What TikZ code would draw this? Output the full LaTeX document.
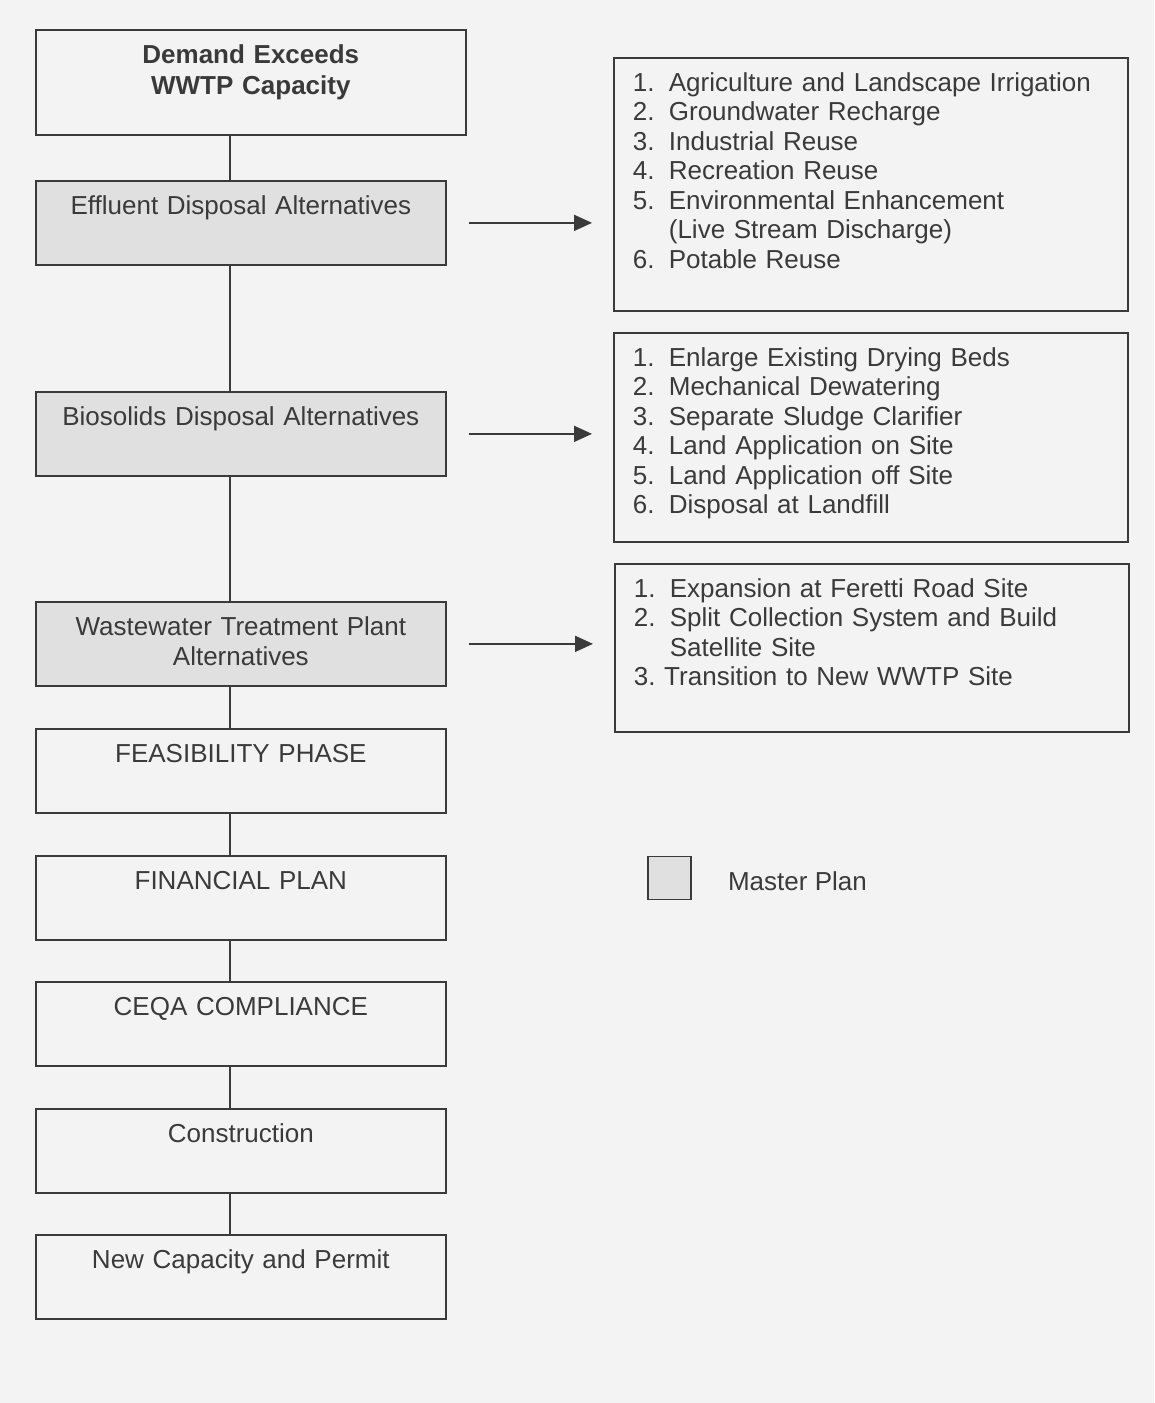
\documentclass[tikz,border=0pt]{standalone}
\usepackage{fontspec}
\setmainfont{Liberation Sans}
\usetikzlibrary{positioning,arrows.meta}
\definecolor{paper}{HTML}{F3F3F3}
\definecolor{ink}{HTML}{3A3A3A}
\definecolor{plan}{HTML}{E0E0E0}
\newcommand{\listno}[1]{\makebox[0.72cm][l]{#1}}

\begin{document}
\begin{tikzpicture}[x=0.02cm, y=-0.02cm,
  every node/.style = {font=\fontsize{14.8}{16.8}\selectfont, text=ink},
  stage/.style = {shape=rectangle, draw=ink, line width=1pt, anchor=north west,
    text width=7.92cm, align=center, inner xsep=0.14cm, inner ysep=0pt,
    text height=0.68cm, text depth=1.0cm},
  master/.style = {stage, fill=plan},
  options/.style = {shape=rectangle, draw=ink, line width=1pt, anchor=north west,
    text width=9.53cm, align=left, inner xsep=0.38cm, inner ysep=0pt,
    text height=0.67cm},
  link/.style = {draw=ink, line width=0.8pt},
  feed/.style = {draw=ink, line width=1pt, -{Triangle[length=0.36cm,width=0.32cm]}}]
  \fill[paper] (0,0) rectangle (1154,1403);
  \coordinate (spine) at (230,0);

  % main column
  \node[stage, text width=8.32cm, text height=0.67cm, text depth=1.43cm,
    font=\fontsize{14.8}{17.6}\selectfont\bfseries] (dem) at (35,29) {Demand Exceeds\\WWTP Capacity};
  \node[master] (eff) at (35,180) {Effluent Disposal Alternatives};
  \node[master] (bio) at (35,391) {Biosolids Disposal Alternatives};
  \node[master] (wwtp) at (35,601) {Wastewater Treatment Plant\\Alternatives};
  \node[stage] (feas) at (35,728) {FEASIBILITY PHASE};
  \node[stage, below=0.825cm of feas] (fin) {FINANCIAL PLAN};
  \node[stage, below=0.805cm of fin] (ceqa) {CEQA COMPLIANCE};
  \node[stage, below=0.825cm of ceqa] (cons) {Construction};
  \node[stage, below=0.805cm of cons] (perm) {New Capacity and Permit};

  % alternatives
  \node[options, text depth=4.39cm] (ef) at (613,57) {%
    \listno{1.}Agriculture and Landscape Irrigation\\
    \listno{2.}Groundwater Recharge\\
    \listno{3.}Industrial Reuse\\
    \listno{4.}Recreation Reuse\\
    \listno{5.}Environmental Enhancement\\
    \listno{}(Live Stream Discharge)\\
    \listno{6.}Potable Reuse};
  \node[options, text depth=3.51cm] (bo) at (613,332) {%
    \listno{1.}Enlarge Existing Drying Beds\\
    \listno{2.}Mechanical Dewatering\\
    \listno{3.}Separate Sludge Clarifier\\
    \listno{4.}Land Application on Site\\
    \listno{5.}Land Application off Site\\
    \listno{6.}Disposal at Landfill};
  \node[options, text depth=2.69cm] (wo) at (614,563) {%
    \listno{1.}Expansion at Feretti Road Site\\
    \listno{2.}Split Collection System and Build\\
    \listno{}Satellite Site\\
    3.\ Transition to New WWTP Site};

  % legend
  \node[draw=ink, fill=plan, line width=1pt, minimum size=0.86cm] (key) at (669.5,878) {};
  \node[right=0.6cm of key, yshift=-0.06cm] (keytext) {Master Plan};

  \foreach \a/\b in {dem/eff, eff/bio, bio/wwtp, wwtp/feas, feas/fin, fin/ceqa, ceqa/cons, cons/perm}
    \draw[link] (\a.south -| spine) -- (\b.north -| spine);
  \foreach \a/\b in {eff/ef, bio/bo, wwtp/wo}
    \draw[feed] ([xshift=0.44cm]\a.east) -- ([xshift=-0.42cm]\a.east -| \b.west);
\end{tikzpicture}
\end{document}
